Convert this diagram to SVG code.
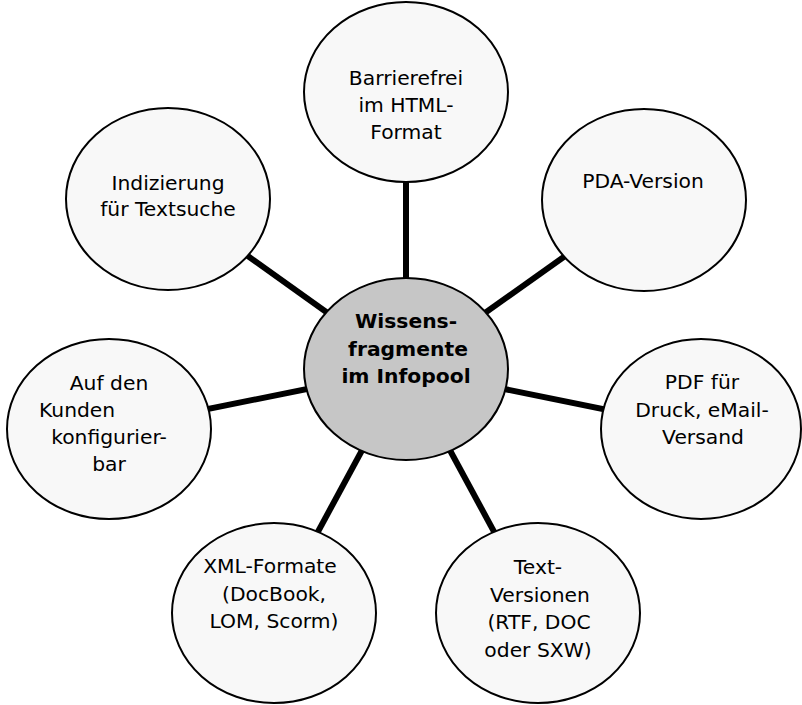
<svg xmlns="http://www.w3.org/2000/svg" width="802" height="705" viewBox="0 0 802 705">
<style>
.n ellipse{fill:#f8f8f8;stroke:#000;stroke-width:2}
#center ellipse{fill:#c6c6c6}
text{font-family:"DejaVu Sans",Verdana,sans-serif;font-size:20.3px;fill:#000;text-anchor:middle}
#center text{font-weight:bold}
#connectors line{stroke:#000;stroke-width:6}
</style>
<rect width="802" height="705" fill="#fff"/>
<g id="connectors">
<line x1="406" y1="369" x2="406" y2="92"/>
<line x1="406" y1="369" x2="168" y2="199"/>
<line x1="406" y1="369" x2="644" y2="200"/>
<line x1="406" y1="369" x2="109" y2="429"/>
<line x1="406" y1="369" x2="701" y2="429"/>
<line x1="406" y1="369" x2="274" y2="613"/>
<line x1="406" y1="369" x2="538" y2="613"/>
</g>
<g id="n-html" class="n">
<ellipse cx="406" cy="92" rx="102" ry="90"/>
<text x="406" y="85">Barrierefrei</text>
<text x="406" y="112">im HTML-</text>
<text x="406" y="139">Format</text>
</g>
<g id="n-index" class="n">
<ellipse cx="168" cy="199" rx="102" ry="91"/>
<text x="168" y="190">Indizierung</text>
<text x="168" y="216">für Textsuche</text>
</g>
<g id="n-pda" class="n">
<ellipse cx="644" cy="200" rx="102" ry="91"/>
<text x="643" y="188">PDA-Version</text>
</g>
<g id="n-kunden" class="n">
<ellipse cx="109" cy="429" rx="102" ry="90"/>
<text x="109" y="390">Auf den</text>
<text x="39" y="417" style="text-anchor:start">Kunden</text>
<text x="109" y="444">konfigurier-</text>
<text x="109" y="471">bar</text>
</g>
<g id="n-pdf" class="n">
<ellipse cx="701" cy="429" rx="100" ry="90"/>
<text x="702" y="389">PDF für</text>
<text x="702" y="417">Druck, eMail-</text>
<text x="703" y="444">Versand</text>
</g>
<g id="n-xml" class="n">
<ellipse cx="274" cy="613" rx="102" ry="90"/>
<text x="270" y="573">XML-Formate</text>
<text x="274" y="601">(DocBook,</text>
<text x="274" y="628">LOM, Scorm)</text>
</g>
<g id="n-text" class="n">
<ellipse cx="538" cy="613" rx="102" ry="90"/>
<text x="538" y="574">Text-</text>
<text x="540" y="602">Versionen</text>
<text x="539" y="629">(RTF, DOC</text>
<text x="538" y="657">oder SXW)</text>
</g>
<g id="center" class="n">
<ellipse cx="406" cy="369" rx="102" ry="91"/>
<text x="406" y="328">Wissens-</text>
<text x="408" y="356">fragmente</text>
<text x="406" y="383">im Infopool</text>
</g>
</svg>
